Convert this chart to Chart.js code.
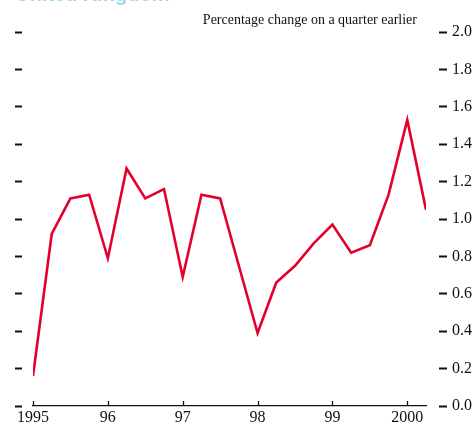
<!DOCTYPE html>
<html>
<head>
<meta charset="utf-8">
<script src="https://cdn.jsdelivr.net/npm/chart.js@4.4.1/dist/chart.umd.min.js"></script>
<style>
  html, body { margin: 0; padding: 0; background: #ffffff; }
  #wrap { width: 474px; height: 425px; position: relative; }
</style>
</head>
<body>
<div id="wrap"><canvas id="c" width="474" height="425"></canvas></div>
<script>
// Quarterly data, 1995 Q1 to 2000 Q2
const startYear = 1995;
const quarterlyChange = [0.16, 0.92, 1.11, 1.13, 0.79, 1.27, 1.11, 1.16, 0.69, 1.13, 1.11, 0.75,
                         0.39, 0.66, 0.75, 0.87, 0.97, 0.82, 0.86, 1.13, 1.53, 1.05];
const yearTickLabels = ['1995', '96', '97', '98', '99', '2000'];
const titleText = 'Percentage change on a quarter earlier';
const headingText = 'United Kingdom';

const points = quarterlyChange.map((v, i) => ({ x: startYear + i / 4, y: v }));
const serif = '"Liberation Serif", "Times New Roman", serif';

const textPlugin = {
  id: 'texts',
  afterDraw(chart) {
    const ctx = chart.ctx;
    const xs = chart.scales.x;
    ctx.save();
    // small upward tick marks on the x axis at each year
    ctx.strokeStyle = '#111111';
    ctx.lineWidth = 1.3;
    xs.ticks.forEach(t => {
      const px = Math.round(xs.getPixelForValue(t.value)) + 0.5;
      ctx.beginPath();
      ctx.moveTo(px, chart.chartArea.bottom);
      ctx.lineTo(px, chart.chartArea.bottom - 5);
      ctx.stroke();
    });
    ctx.fillStyle = '#111111';
    ctx.font = '14px ' + serif;
    ctx.textAlign = 'right';
    ctx.textBaseline = 'alphabetic';
    ctx.fillText(titleText, chart.chartArea.right - 9, 24);
    ctx.fillStyle = '#9ad6f4';
    ctx.font = 'bold 20px "Liberation Sans", Arial, sans-serif';
    ctx.textAlign = 'left';
    ctx.fillText(headingText, 15, 1);
    ctx.restore();
  }
};

new Chart(document.getElementById('c'), {
  type: 'line',
  data: {
    datasets: [{
      data: points,
      borderColor: '#e4002b',
      borderWidth: 2.6,
      pointRadius: 0,
      tension: 0,
      fill: false
    }]
  },
  options: {
    responsive: false,
    animation: false,
    layout: { padding: { top: 32, left: 0, right: 0, bottom: 0 } },
    plugins: { legend: { display: false }, tooltip: { enabled: false }, title: { display: false } },
    scales: {
      x: {
        type: 'linear',
        position: 'bottom',
        min: 1995,
        max: 2000.25,
        afterFit(s) { s.height = 19; },
        ticks: {
          stepSize: 1,
          includeBounds: false,
          autoSkip: false,
          maxRotation: 0,
          padding: 2,
          color: '#111111',
          font: { family: serif, size: 16 },
          callback: (v) => {
            const idx = Math.round(v - startYear);
            return (Math.abs(v - Math.round(v)) < 1e-6 && yearTickLabels[idx] !== undefined) ? yearTickLabels[idx] : '';
          }
        },
        grid: { display: false, drawTicks: false },
        border: { display: true, color: '#111111', width: 1.3 }
      },
      yl: {
        type: 'linear',
        position: 'left',
        min: 0,
        max: 2,
        afterFit(s) { s.width = 33; },
        ticks: { display: false, stepSize: 0.2 },
        grid: {
          drawOnChartArea: false,
          drawTicks: true,
          tickLength: 18,
          tickWidth: 2,
          tickColor: '#111111',
          tickBorderDash: [7, 100]
        },
        border: { display: false }
      },
      y: {
        type: 'linear',
        position: 'right',
        min: 0,
        max: 2,
        afterFit(s) { s.width = 48; },
        ticks: {
          stepSize: 0.2,
          padding: 5,
          color: '#111111',
          font: { family: serif, size: 16 },
          callback: (v) => Number(v).toFixed(1)
        },
        grid: {
          drawOnChartArea: false,
          drawTicks: true,
          tickLength: 21,
          tickWidth: 2,
          tickColor: '#111111',
          tickBorderDash: [8, 13],
          tickBorderDashOffset: 8
        },
        border: { display: false }
      }
    }
  },
  plugins: [textPlugin]
});
</script>
</body>
</html>
